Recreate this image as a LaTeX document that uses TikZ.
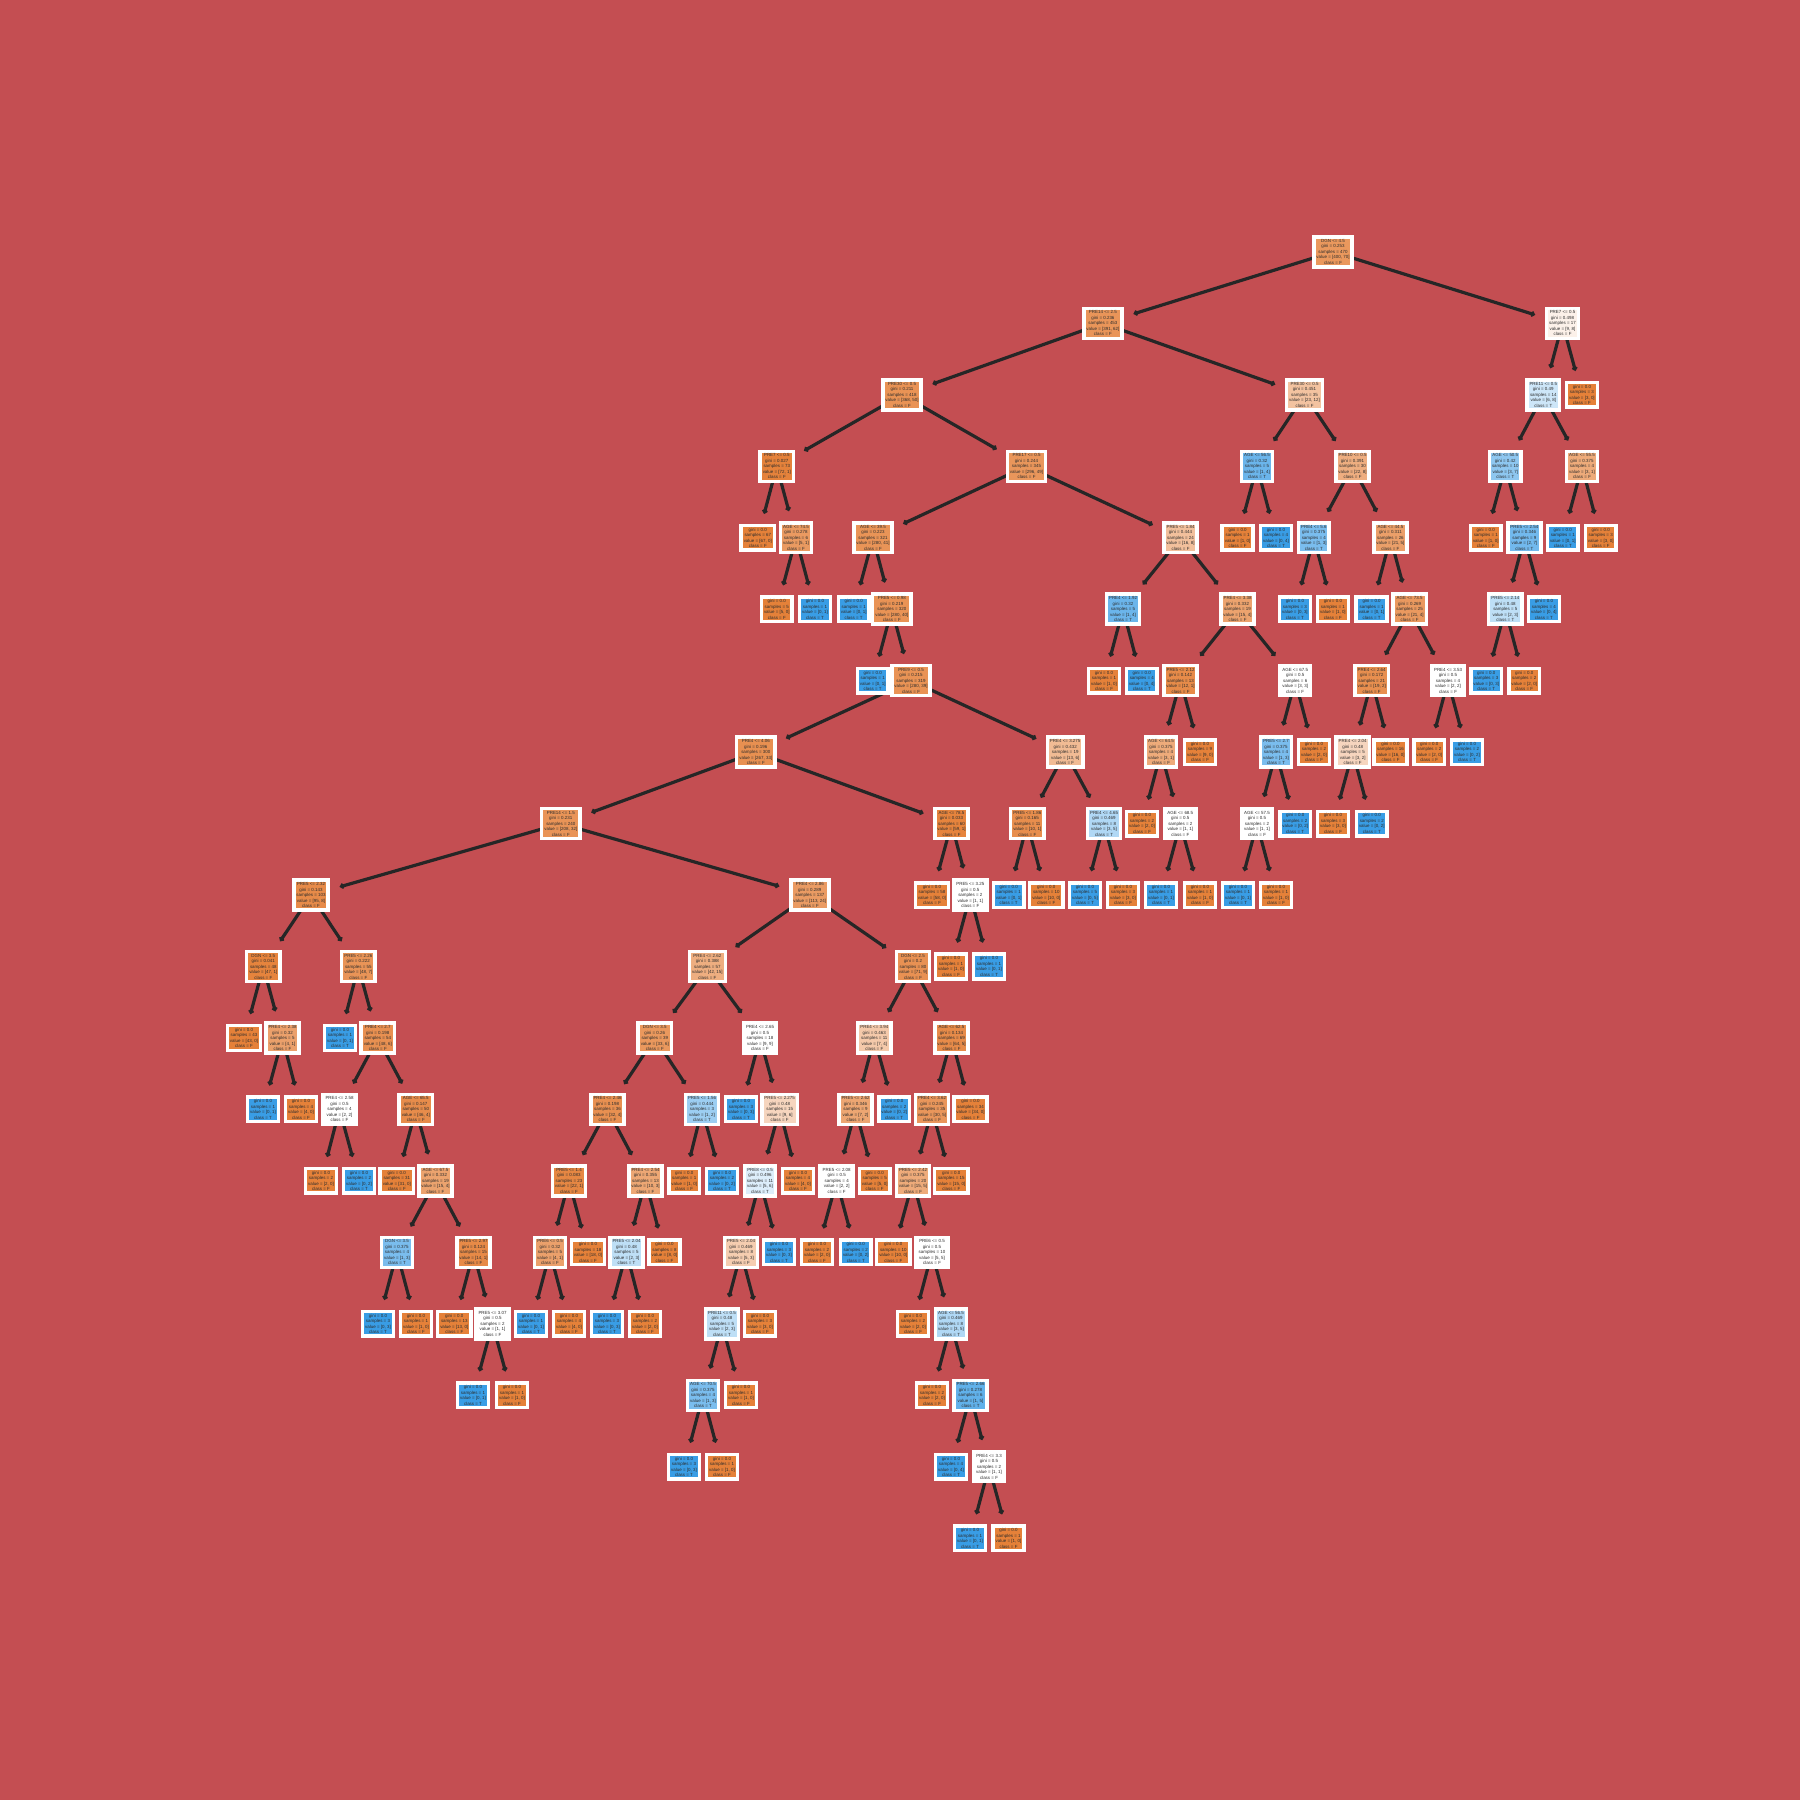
\documentclass[tikz,border=0pt]{standalone}
\usepackage{fontspec}
\setmainfont{Liberation Sans}
\usetikzlibrary{arrows.meta}
\definecolor{cF}{RGB}{229,129,57}
\definecolor{cT}{RGB}{57,157,229}
\definecolor{bgc}{HTML}{C44E52}
\definecolor{edgec}{RGB}{38,38,38}
\definecolor{txtc}{RGB}{45,45,45}
\pgfdeclarelayer{bg}
\pgfdeclarelayer{edgelayer}
\pgfsetlayers{bg,edgelayer,main}
\tikzset{
  tn/.style={draw=white, line width=3.5pt, inner xsep=2.6pt, inner ysep=2.4pt,
    align=center, text=txtc, font=\fontsize{4.45pt}{5.5pt}\selectfont},
  tedge/.style={draw=edgec, line width=3.2pt, -{Circle[length=5pt]}, shorten >=10.5pt}
}
\newcommand\TN[6]{%
  \pgfmathtruncatemacro\tnn{#5+#6}%
  \pgfmathsetmacro\tng{2*(#5/\tnn)*(#6/\tnn)}%
  \pgfmathtruncatemacro\tnpct{round(100*((max(#5,#6)-min(#5,#6))/max(#5,#6)))}%
  \ifnum#5<#6\relax\def\tncol{cT}\def\tncls{T}\else\def\tncol{cF}\def\tncls{F}\fi
  \ifnum\numexpr#5*#6\relax=0 \def\tngtxt{0.0}\else\def\tngtxt{\pgfmathprintnumber[fixed,precision=3,assume math mode=true]{\tng}}\fi
  \node[tn,fill=\tncol!\tnpct!white] (#1) at (#2,{251.9+71.46*#3})
    {\if\relax\detokenize{#4}\relax\else#4\\\fi gini = \tngtxt\\samples = \tnn\\value = [#5, #6]\\class = \tncls};%
}
\newcommand\EE[3]{\draw[tedge] (#1.center) -- (#2); \draw[tedge] (#1.center) -- (#3);}
\begin{document}
\begin{tikzpicture}[x=1pt,y=-1pt]
\useasboundingbox (0,0) rectangle (1800,1800);
\begin{pgfonlayer}{bg}\fill[bgc] (0,0) rectangle (1800,1800);\end{pgfonlayer}
\TN{n0}{1333}{0}{DGN <= 4.5}{400}{70}
\TN{n1}{1102.9}{1}{PRE14 <= 2.5}{391}{62}
\TN{n2}{1562.5}{1}{PRE7 <= 0.5}{9}{8}
\TN{n3}{902}{2}{PRE30 <= 0.5}{368}{50}
\TN{n4}{1304.5}{2}{PRE30 <= 0.5}{23}{12}
\TN{n5}{1543.3}{2}{PRE11 <= 0.5}{6}{8}
\TN{n6}{1581.9}{2}{}{3}{0}
\TN{n7}{776.8}{3}{PRE7 <= 0.5}{72}{1}
\TN{n8}{1026.5}{3}{PRE17 <= 0.5}{296}{49}
\TN{n9}{757.8}{4}{}{67}{0}
\TN{n10}{796}{4}{AGE <= 74.5}{5}{1}
\TN{n11}{776.8}{5}{}{5}{0}
\TN{n12}{815}{5}{}{0}{1}
\TN{n13}{873}{4}{AGE <= 39.5}{280}{41}
\TN{n14}{1180.5}{4}{PRE5 <= 1.84}{16}{8}
\TN{n15}{853.7}{5}{}{0}{1}
\TN{n16}{891.8}{5}{PRE5 <= 0.98}{280}{40}
\TN{n17}{872.7}{6}{}{0}{1}
\TN{n18}{911}{6}{PRE9 <= 0.5}{280}{39}
\TN{n19}{755.8}{7}{PRE4 <= 4.06}{267}{33}
\TN{n20}{1065.2}{7}{PRE4 <= 3.275}{13}{6}
\TN{n21}{560.8}{8}{PRE14 <= 1.5}{208}{32}
\TN{n22}{951.5}{8}{AGE <= 78.5}{59}{1}
\TN{n23}{932}{9}{}{58}{0}
\TN{n24}{970.3}{9}{PRE5 <= 3.25}{1}{1}
\TN{n25}{951}{10}{}{1}{0}
\TN{n26}{989}{10}{}{0}{1}
\TN{n27}{1027.3}{8}{PRE5 <= 1.86}{10}{1}
\TN{n28}{1104}{8}{PRE4 <= 4.65}{3}{5}
\TN{n29}{1008.7}{9}{}{0}{1}
\TN{n30}{1046.3}{9}{}{10}{0}
\TN{n31}{1085}{9}{}{0}{5}
\TN{n32}{1123}{9}{}{3}{0}
\TN{n33}{311}{9}{PRE5 <= 2.32}{95}{8}
\TN{n34}{809.8}{9}{PRE4 <= 2.86}{113}{24}
\TN{n35}{263.3}{10}{DGN <= 3.5}{47}{1}
\TN{n36}{358.3}{10}{PRE5 <= 2.26}{48}{7}
\TN{n37}{244}{11}{}{43}{0}
\TN{n38}{282.5}{11}{PRE4 <= 2.38}{4}{1}
\TN{n39}{263}{12}{}{0}{1}
\TN{n40}{301}{12}{}{4}{0}
\TN{n41}{340}{11}{}{0}{1}
\TN{n42}{377.8}{11}{PRE4 <= 2.7}{48}{6}
\TN{n43}{339.5}{12}{PRE4 <= 2.58}{2}{2}
\TN{n44}{415.8}{12}{AGE <= 65.5}{46}{4}
\TN{n45}{321}{13}{}{2}{0}
\TN{n46}{359}{13}{}{0}{2}
\TN{n47}{396.8}{13}{}{31}{0}
\TN{n48}{435.5}{13}{AGE <= 67.5}{15}{4}
\TN{n49}{397}{14}{DGN <= 3.5}{1}{3}
\TN{n50}{473.5}{14}{PRE5 <= 2.97}{14}{1}
\TN{n51}{378}{15}{}{0}{3}
\TN{n52}{416}{15}{}{1}{0}
\TN{n53}{454.3}{15}{}{13}{0}
\TN{n54}{492.5}{15}{PRE5 <= 3.07}{1}{1}
\TN{n55}{473}{16}{}{0}{1}
\TN{n56}{512}{16}{}{1}{0}
\TN{n57}{707.4}{10}{PRE4 <= 2.62}{42}{15}
\TN{n58}{913}{10}{DGN <= 2.5}{71}{9}
\TN{n59}{654.8}{11}{DGN <= 3.5}{33}{6}
\TN{n60}{760}{11}{PRE4 <= 2.65}{9}{9}
\TN{n61}{607.5}{12}{PRE4 <= 2.46}{32}{4}
\TN{n62}{702}{12}{PRE5 <= 1.56}{1}{2}
\TN{n63}{569}{13}{PRE5 <= 1.4}{22}{1}
\TN{n64}{645.5}{13}{PRE4 <= 2.54}{10}{3}
\TN{n65}{550}{14}{PRE6 <= 0.5}{4}{1}
\TN{n66}{588}{14}{}{18}{0}
\TN{n67}{531}{15}{}{0}{1}
\TN{n68}{569}{15}{}{4}{0}
\TN{n69}{626.5}{14}{PRE5 <= 2.04}{2}{3}
\TN{n70}{664.5}{14}{}{8}{0}
\TN{n71}{607}{15}{}{0}{3}
\TN{n72}{645}{15}{}{2}{0}
\TN{n73}{684.2}{13}{}{1}{0}
\TN{n74}{722}{13}{}{0}{2}
\TN{n75}{741}{12}{}{0}{3}
\TN{n76}{779.7}{12}{PRE5 <= 2.275}{9}{6}
\TN{n77}{760}{13}{PRE8 <= 0.5}{5}{6}
\TN{n78}{798}{13}{}{4}{0}
\TN{n79}{741}{14}{PRE5 <= 2.04}{5}{3}
\TN{n80}{779}{14}{}{0}{3}
\TN{n81}{722}{15}{PRE11 <= 0.5}{2}{3}
\TN{n82}{760}{15}{}{3}{0}
\TN{n83}{703}{16}{AGE <= 70.5}{1}{3}
\TN{n84}{741}{16}{}{1}{0}
\TN{n85}{684}{17}{}{0}{3}
\TN{n86}{722}{17}{}{1}{0}
\TN{n87}{874.3}{11}{PRE4 <= 3.94}{7}{4}
\TN{n88}{951.5}{11}{AGE <= 62.5}{64}{5}
\TN{n89}{855.5}{12}{PRE5 <= 2.62}{7}{2}
\TN{n90}{894.2}{12}{}{0}{2}
\TN{n91}{836.7}{13}{PRE5 <= 2.08}{2}{2}
\TN{n92}{874.7}{13}{}{5}{0}
\TN{n93}{817}{14}{}{2}{0}
\TN{n94}{855.8}{14}{}{0}{2}
\TN{n95}{932}{12}{PRE4 <= 3.62}{30}{5}
\TN{n96}{970.5}{12}{}{34}{0}
\TN{n97}{913}{13}{PRE5 <= 2.42}{15}{5}
\TN{n98}{951.3}{13}{}{15}{0}
\TN{n99}{893.3}{14}{}{10}{0}
\TN{n100}{932}{14}{PRE6 <= 0.5}{5}{5}
\TN{n101}{913}{15}{}{2}{0}
\TN{n102}{951}{15}{AGE <= 56.5}{3}{5}
\TN{n103}{932}{16}{}{2}{0}
\TN{n104}{970.5}{16}{PRE5 <= 2.66}{1}{5}
\TN{n105}{951}{17}{}{0}{4}
\TN{n106}{989}{17}{PRE4 <= 3.3}{1}{1}
\TN{n107}{970}{18}{}{0}{1}
\TN{n108}{1008.5}{18}{}{1}{0}
\TN{n109}{1123}{5}{PRE4 <= 1.92}{1}{4}
\TN{n110}{1237.5}{5}{PRE4 <= 3.38}{15}{4}
\TN{n111}{1104}{6}{}{1}{0}
\TN{n112}{1141.8}{6}{}{0}{4}
\TN{n113}{1180.5}{6}{PRE5 <= 2.12}{12}{1}
\TN{n114}{1295.2}{6}{AGE <= 67.5}{3}{3}
\TN{n115}{1161}{7}{AGE <= 64.5}{3}{1}
\TN{n116}{1200}{7}{}{9}{0}
\TN{n117}{1142}{8}{}{2}{0}
\TN{n118}{1180.3}{8}{AGE <= 68.5}{1}{1}
\TN{n119}{1161}{9}{}{0}{1}
\TN{n120}{1200}{9}{}{1}{0}
\TN{n121}{1276}{7}{PRE5 <= 2.7}{1}{3}
\TN{n122}{1314}{7}{}{2}{0}
\TN{n123}{1257}{8}{AGE <= 57.5}{1}{1}
\TN{n124}{1295.2}{8}{}{0}{2}
\TN{n125}{1238}{9}{}{0}{1}
\TN{n126}{1276}{9}{}{1}{0}
\TN{n127}{1257}{3}{AGE <= 56.5}{1}{4}
\TN{n128}{1352.5}{3}{PRE10 <= 0.5}{22}{8}
\TN{n129}{1237.6}{4}{}{1}{0}
\TN{n130}{1276}{4}{}{0}{4}
\TN{n131}{1313.8}{4}{PRE4 <= 5.6}{1}{3}
\TN{n132}{1390.4}{4}{AGE <= 44.5}{21}{5}
\TN{n133}{1294.9}{5}{}{0}{3}
\TN{n134}{1332.9}{5}{}{1}{0}
\TN{n135}{1371.6}{5}{}{0}{1}
\TN{n136}{1409.6}{5}{AGE <= 73.5}{21}{4}
\TN{n137}{1371.7}{6}{PRE4 <= 2.64}{19}{2}
\TN{n138}{1448}{6}{PRE4 <= 3.53}{2}{2}
\TN{n139}{1352.7}{7}{PRE4 <= 2.04}{3}{2}
\TN{n140}{1390.5}{7}{}{16}{0}
\TN{n141}{1333}{8}{}{3}{0}
\TN{n142}{1371.8}{8}{}{0}{2}
\TN{n143}{1429.2}{7}{}{2}{0}
\TN{n144}{1467}{7}{}{0}{2}
\TN{n145}{1505.3}{3}{AGE <= 50.5}{3}{7}
\TN{n146}{1582}{3}{AGE <= 55.5}{3}{1}
\TN{n147}{1485.8}{4}{}{1}{0}
\TN{n148}{1524.4}{4}{PRE5 <= 2.54}{2}{7}
\TN{n149}{1505.3}{5}{PRE5 <= 2.14}{2}{3}
\TN{n150}{1543.9}{5}{}{0}{4}
\TN{n151}{1486.2}{6}{}{0}{3}
\TN{n152}{1524.2}{6}{}{2}{0}
\TN{n153}{1562.8}{4}{}{0}{1}
\TN{n154}{1600.7}{4}{}{3}{0}
\begin{pgfonlayer}{edgelayer}
\EE{n0}{n1}{n2}
\EE{n1}{n3}{n4}
\EE{n2}{n5}{n6}
\EE{n3}{n7}{n8}
\EE{n7}{n9}{n10}
\EE{n10}{n11}{n12}
\EE{n8}{n13}{n14}
\EE{n13}{n15}{n16}
\EE{n16}{n17}{n18}
\EE{n18}{n19}{n20}
\EE{n19}{n21}{n22}
\EE{n22}{n23}{n24}
\EE{n24}{n25}{n26}
\EE{n20}{n27}{n28}
\EE{n27}{n29}{n30}
\EE{n28}{n31}{n32}
\EE{n21}{n33}{n34}
\EE{n33}{n35}{n36}
\EE{n35}{n37}{n38}
\EE{n38}{n39}{n40}
\EE{n36}{n41}{n42}
\EE{n42}{n43}{n44}
\EE{n43}{n45}{n46}
\EE{n44}{n47}{n48}
\EE{n48}{n49}{n50}
\EE{n49}{n51}{n52}
\EE{n50}{n53}{n54}
\EE{n54}{n55}{n56}
\EE{n34}{n57}{n58}
\EE{n57}{n59}{n60}
\EE{n59}{n61}{n62}
\EE{n61}{n63}{n64}
\EE{n63}{n65}{n66}
\EE{n65}{n67}{n68}
\EE{n64}{n69}{n70}
\EE{n69}{n71}{n72}
\EE{n62}{n73}{n74}
\EE{n60}{n75}{n76}
\EE{n76}{n77}{n78}
\EE{n77}{n79}{n80}
\EE{n79}{n81}{n82}
\EE{n81}{n83}{n84}
\EE{n83}{n85}{n86}
\EE{n58}{n87}{n88}
\EE{n87}{n89}{n90}
\EE{n89}{n91}{n92}
\EE{n91}{n93}{n94}
\EE{n88}{n95}{n96}
\EE{n95}{n97}{n98}
\EE{n97}{n99}{n100}
\EE{n100}{n101}{n102}
\EE{n102}{n103}{n104}
\EE{n104}{n105}{n106}
\EE{n106}{n107}{n108}
\EE{n14}{n109}{n110}
\EE{n109}{n111}{n112}
\EE{n110}{n113}{n114}
\EE{n113}{n115}{n116}
\EE{n115}{n117}{n118}
\EE{n118}{n119}{n120}
\EE{n114}{n121}{n122}
\EE{n121}{n123}{n124}
\EE{n123}{n125}{n126}
\EE{n4}{n127}{n128}
\EE{n127}{n129}{n130}
\EE{n128}{n131}{n132}
\EE{n131}{n133}{n134}
\EE{n132}{n135}{n136}
\EE{n136}{n137}{n138}
\EE{n137}{n139}{n140}
\EE{n139}{n141}{n142}
\EE{n138}{n143}{n144}
\EE{n5}{n145}{n146}
\EE{n145}{n147}{n148}
\EE{n148}{n149}{n150}
\EE{n149}{n151}{n152}
\EE{n146}{n153}{n154}
\end{pgfonlayer}
\end{tikzpicture}
\end{document}
